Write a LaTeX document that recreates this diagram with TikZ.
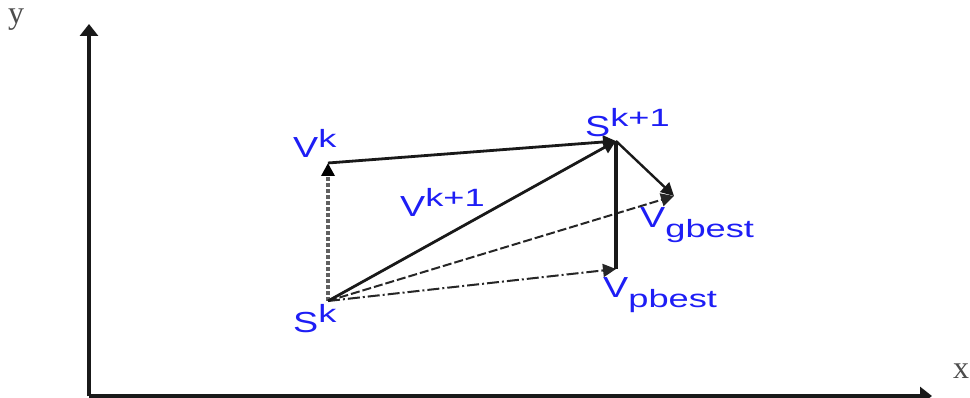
\documentclass[tikz,border=0pt]{standalone}
\usepackage{fontspec}
\usetikzlibrary{arrows.meta}
\newfontfamily\lblfont[FakeStretch=1.3]{Liberation Sans}
\newfontfamily\scrfont[FakeStretch=1.45]{Liberation Sans}
\newfontfamily\axfont{Liberation Serif}
\definecolor{lblblue}{RGB}{30,30,245}
\newcommand\vsup[2]{{\lblfont\fontsize{29pt}{29pt}\selectfont #1}\raisebox{10pt}{\scrfont\fontsize{25pt}{25pt}\selectfont #2}}
\newcommand\vsub[2]{{\lblfont\fontsize{29pt}{29pt}\selectfont #1}\raisebox{-10pt}{\scrfont\fontsize{25pt}{25pt}\selectfont #2}}

\begin{document}
\begin{tikzpicture}[x=1pt, y=-1pt,
		axis/.style={-{Triangle[length=12pt, width=18pt]}, line width=4pt, color=black!90},
		vec/.style={-{Triangle[length=13pt, width=13pt]}, line width=2.8pt, color=black!90},
		seg/.style={line width=3.2pt, color=black!90},
		oldvel/.style={-{Triangle[length=13pt, width=13pt, color=black]}, line width=3.5pt, color=gray!75!black, dash pattern=on 4pt off 2pt},
		gdash/.style={-{Triangle[length=13pt, width=13pt]}, line width=2pt, color=black!85, dash pattern=on 9pt off 3pt},
		pdash/.style={-{Triangle[length=13pt, width=13pt]}, line width=2pt, color=black!85, dash pattern=on 12pt off 3pt on 2pt off 3pt},
		lbl/.style={anchor=base west, inner sep=0pt, text=lblblue},
		axlbl/.style={anchor=base west, inner sep=0pt, text=black!70, font=\axfont\fontsize{32pt}{32pt}\selectfont}
		]
		\useasboundingbox (0,0) rectangle (970,398);
		
		% --- Axes ---
		\coordinate (O) at (89,396);
		\coordinate (Ytip) at (89,24);
		\coordinate (Xtip) at (932,396);
		\draw[axis] (O) -- (Ytip);
		\draw[axis] (O) -- (Xtip);
		\node[axlbl] (ylab) at (8,24) {y};
		\node[axlbl] (xlab) at (953,378) {x};
		
		% --- Points ---
		\coordinate (Sk) at (328,301);
		\coordinate (Vk) at (328,163);
		\coordinate (Sk1) at (616,141);
		\coordinate (G) at (674,196);
		\coordinate (P) at (616,269);
		
		% --- Velocity vectors ---
		\draw[oldvel] (Sk) -- (Vk);
		\draw[pdash] (Sk) -- (P);
		\draw[gdash] (Sk) -- (G);
		\draw[seg] (Sk1) -- (P);
		\draw[vec, line width=2.4pt] (Sk1) -- (G);
		\draw[vec] (Vk) -- (Sk1);
		\draw[vec] (Sk) -- (Sk1);
		
		% --- Labels ---
		\node[lbl] (lVk) at (293,158) {\vsup{V}{k}};
		\node[lbl] (lSk1) at (585,137) {\vsup{S}{k+1}};
		\node[lbl] (lVk1) at (400,217) {\vsup{V}{k+1}};
		\node[lbl] (lG) at (640,228) {\vsub{V}{gbest}};
		\node[lbl] (lP) at (603,298) {\vsub{V}{pbest}};
		\node[lbl] (lSk) at (293,333) {\vsup{S}{k}};
		
	\end{tikzpicture}
\end{document}
